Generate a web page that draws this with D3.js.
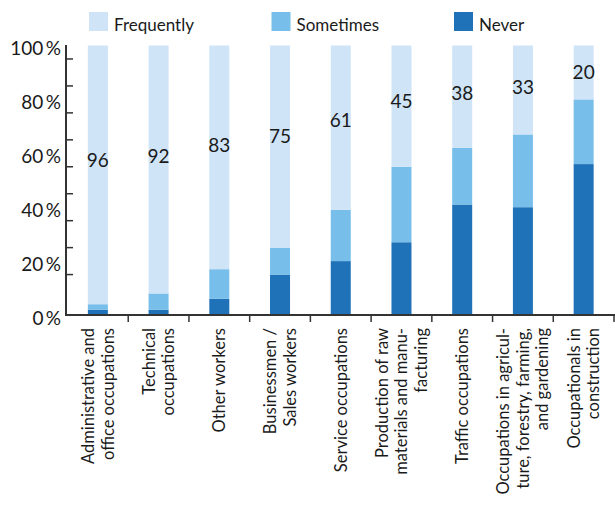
<!DOCTYPE html>
<html>
<head>
<meta charset="utf-8">
<script src="https://cdn.jsdelivr.net/npm/d3@7"></script>
<style>
  html, body { margin: 0; padding: 0; background: #fff; }
  svg { display: block; }
  text { font-family: Lato, "Open Sans", sans-serif; fill: #1a1a1a; }
</style>
</head>
<body>
<svg id="chart" width="615" height="505"></svg>
<script>
// ---- data ----
const categories = [
  ["Administrative and", "office occupations"],
  ["Technical", "occupations"],
  ["Other workers"],
  ["Businessmen /", "Sales workers"],
  ["Service occupations"],
  ["Production of raw", "materials and manu-", "facturing"],
  ["Traffic occupations"],
  ["Occupations in agricul-", "ture, forestry, farming,", "and gardening"],
  ["Occupationals in", "construction"]
];
const never      = [2, 2, 6, 15, 20, 27, 41, 40, 56];
const sometimes  = [2, 6, 11, 10, 19, 28, 21, 27, 24];
const frequently = [96, 92, 83, 75, 61, 45, 38, 33, 20];
const seriesNames = ["Frequently", "Sometimes", "Never"];
const yTickLabels = [0, 20, 40, 60, 80, 100];
const yTickMarks = [15, 25, 35, 45, 55, 65, 75, 85, 95];

// ---- styles ----
const colors = { Frequently: "#cfe4f7", Sometimes: "#77bfea", Never: "#1f71b8" };
const axisColor = "#333";

const svg = d3.select("#chart");
const keys = categories.map((c, i) => i);

const x = d3.scaleBand().domain(keys).range([67.5, 614]).paddingInner(0).paddingOuter(0);
const y = d3.scaleLinear().domain([0, 100]).range([315, 45.5]);
const barW = 20;

const rows = keys.map(i => ({ i, Never: never[i], Sometimes: sometimes[i], Frequently: frequently[i] }));
const stack = d3.stack().keys(["Never", "Sometimes", "Frequently"]);
const stacked = stack(rows);

// bars
svg.append("g").selectAll("g").data(stacked).join("g")
  .attr("fill", d => colors[d.key])
  .selectAll("rect").data(d => d).join("rect")
  .attr("x", d => x(d.data.i) + x.bandwidth() / 2 - barW / 2)
  .attr("width", barW)
  .attr("y", d => y(d[1]))
  .attr("height", d => y(d[0]) - y(d[1]));

// value labels (Frequently)
svg.append("g").selectAll("text").data(rows).join("text")
  .attr("x", d => x(d.i) + x.bandwidth() / 2)
  .attr("y", d => y(100 - d.Frequently * 0.43) + 3)
  .attr("text-anchor", "middle")
  .attr("dominant-baseline", "central")
  .style("font-size", "19px")
  .text(d => d.Frequently);

// y axis
svg.append("line")
  .attr("x1", 66).attr("x2", 66).attr("y1", y(100) - 0.5).attr("y2", y(0) + 1)
  .attr("stroke", axisColor).attr("stroke-width", 2);
svg.append("g").selectAll("line").data(yTickMarks).join("line")
  .attr("x1", 66).attr("x2", 73).attr("y1", d => y(d)).attr("y2", d => y(d))
  .attr("stroke", axisColor).attr("stroke-width", 1.5);
svg.append("g").selectAll("text").data(yTickLabels).join("text")
  .attr("x", 61).attr("y", d => y(d) + 2)
  .attr("text-anchor", "end")
  .attr("dominant-baseline", "central")
  .style("font-size", "19px")
  .text(d => d + "\u2009%");

// x axis
svg.append("line")
  .attr("x1", 65).attr("x2", 615).attr("y1", y(0)).attr("y2", y(0))
  .attr("stroke", axisColor).attr("stroke-width", 2);
svg.append("g").selectAll("line").data(keys).join("line")
  .attr("x1", d => x(d) + x.step()).attr("x2", d => x(d) + x.step())
  .attr("y1", y(0)).attr("y2", y(0) + 7)
  .attr("stroke", axisColor).attr("stroke-width", 1.5);

// x labels
const lh = 19.5;
const xl = svg.append("g").selectAll("text").data(keys).join("text")
  .attr("transform", d => `translate(${x(d) + x.bandwidth() / 2},328) rotate(-90)`)
  .attr("text-anchor", "end")
  .style("font-size", "16.5px");
xl.selectAll("tspan").data(d => categories[d].map((t, j, arr) => ({ t, j, n: arr.length }))).join("tspan")
  .attr("x", 0)
  .attr("y", d => (d.j - (d.n - 1) / 2) * lh)
  .attr("dominant-baseline", "central")
  .text(d => d.t);

// legend
const lg = svg.append("g").selectAll("g").data(seriesNames).join("g")
  .attr("transform", (d, i) => `translate(${89 + i * 182.5},12)`);
lg.append("rect").attr("width", 19).attr("height", 19).attr("fill", d => colors[d]);
lg.append("text").attr("x", 25).attr("y", 19)
  .style("font-size", "17px")
  .text(d => d);
</script>
</body>
</html>
